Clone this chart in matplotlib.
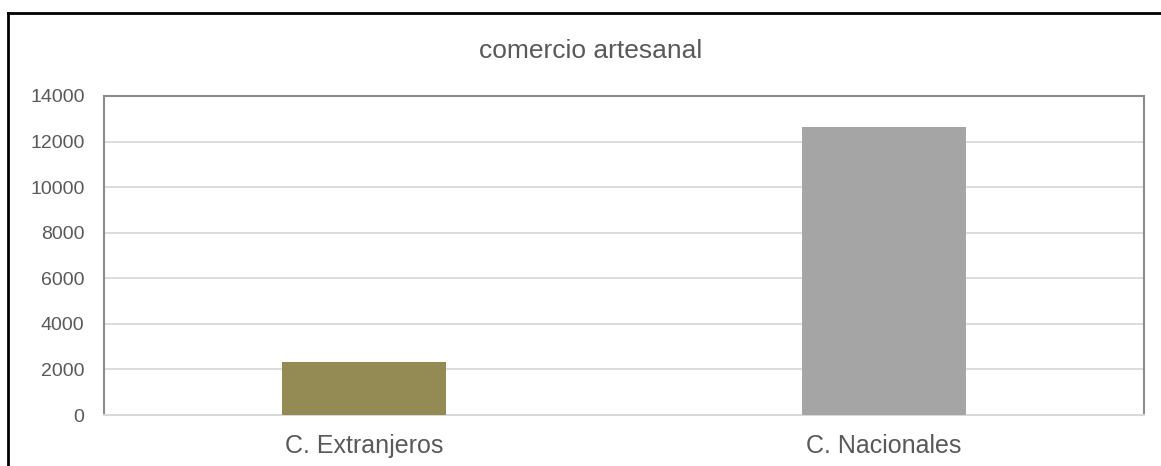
import matplotlib.pyplot as plt
from matplotlib.lines import Line2D

# Datos del gráfico
categorias = ["C. Extranjeros", "C. Nacionales"]
valores = [2330, 12640]
colores = ["#948a54", "#a5a5a5"]
titulo = "comercio artesanal"

plt.rcParams['font.family'] = ['Liberation Sans', 'DejaVu Sans']

fig = plt.figure(figsize=(11.61, 4.66), dpi=100)
ax = fig.add_axes([104 / 1161, 51 / 466, 1040 / 1161, 319 / 466])

posiciones = range(len(categorias))
ax.bar(posiciones, valores, width=0.315, color=colores, zorder=3)

ax.set_xlim(-0.5, len(categorias) - 0.5)
ax.set_ylim(0, 14000)
ax.set_yticks(range(0, 14001, 2000))
ax.set_xticks(list(posiciones))
ax.set_xticklabels(categorias)

ax.grid(axis='y', color='#d9d9d9', linewidth=1.3, zorder=0)
ax.tick_params(axis='both', length=0, colors='#595959')
ax.tick_params(axis='y', pad=14, labelsize=14)
ax.tick_params(axis='x', pad=14, labelsize=18)

for lado in ['left', 'top', 'right']:
    ax.spines[lado].set_color('#8c8c8c')
    ax.spines[lado].set_linewidth(1.5)
ax.spines['bottom'].set_color('#d9d9d9')
ax.spines['bottom'].set_linewidth(1.5)

fig.text(591 / 1161, 1 - 51 / 466, titulo, ha='center', va='center',
         fontsize=19, color='#595959')

# Borde exterior (solo arriba e izquierda)
x0 = 8 / 1161
y0 = 1 - 13 / 466
fig.add_artist(Line2D([x0, 1], [y0, y0], color='black', linewidth=2, transform=fig.transFigure))
fig.add_artist(Line2D([x0, x0], [0, y0], color='black', linewidth=2, transform=fig.transFigure))

fig.savefig('out.png', dpi=100)
